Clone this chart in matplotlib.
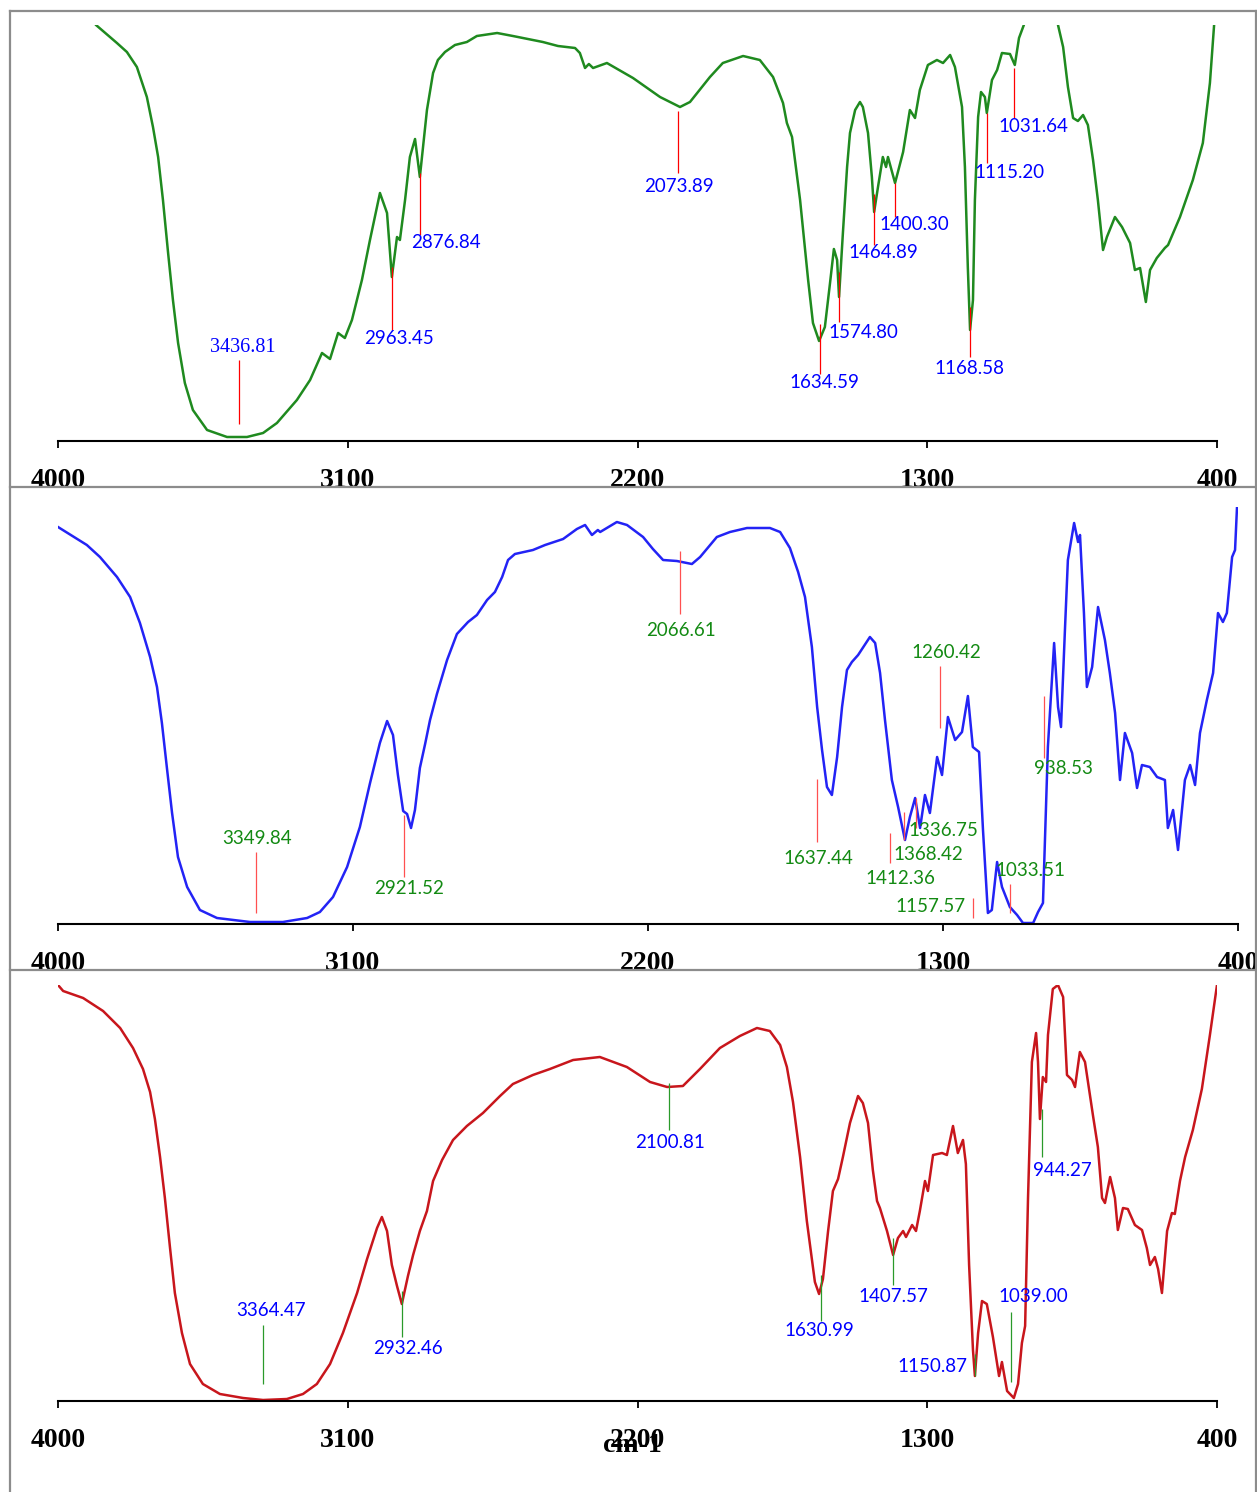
import matplotlib
matplotlib.use("Agg")
import matplotlib.pyplot as plt
from matplotlib.lines import Line2D

W, H = 1257, 1492

# ---- panel 1 (green) : wavenumber / transmittance (a.u.)
wn1 = [3932, 3882, 3817, 3786, 3755, 3724, 3705, 3689, 3674, 3658, 3643, 3627, 3606, 3581,
       3537, 3475, 3413, 3363, 3320, 3258, 3217, 3180, 3155, 3130, 3109, 3087, 3056, 3031,
       3000, 2978, 2963, 2947, 2938, 2922, 2907, 2891, 2876, 2854, 2835, 2820, 2798, 2767,
       2730, 2699, 2636, 2587, 2494, 2447, 2394, 2379, 2363, 2351, 2338, 2295, 2214, 2130,
       2068, 2037, 1975, 1935, 1872, 1820, 1779, 1748, 1736, 1720, 1695, 1670, 1655, 1636,
       1618, 1602, 1590, 1580, 1574, 1562, 1549, 1540, 1524, 1509, 1500, 1484, 1472, 1465,
       1453, 1438, 1428, 1422, 1400, 1375, 1354, 1338, 1323, 1298, 1270, 1251, 1229, 1214,
       1192, 1183, 1174, 1167, 1158, 1152, 1142, 1133, 1121, 1115, 1099, 1083, 1068, 1043,
       1028, 1015, 1000, 965, 919, 894, 878, 863, 847, 832, 816, 801, 785, 770, 754, 742,
       717, 695, 670, 655, 639, 621, 608, 587, 562, 552, 515, 475, 444, 422, 409]
t1 = [436, 416, 398, 389, 374, 344, 314, 284, 241, 188, 141, 98, 58, 31,
      11, 4, 4, 8, 18, 41, 61, 88, 82, 108, 103, 121, 161, 201,
      248, 228, 164, 204, 201, 241, 284, 302, 264, 331, 368, 381, 389, 396,
      399, 405, 408, 405, 399, 395, 393, 388, 373, 377, 373, 378, 363, 344,
      334, 339, 364, 378, 385, 381, 364, 338, 318, 304, 241, 161, 118, 100,
      114, 158, 192, 181, 144, 208, 274, 308, 331, 339, 334, 308, 264, 229,
      254, 284, 274, 284, 258, 289, 331, 323, 351, 376, 381, 378, 386, 374,
      334, 274, 174, 111, 141, 241, 324, 349, 344, 328, 361, 371, 388, 387,
      376, 403, 416, 451, 451, 416, 394, 354, 323, 320, 326, 316, 281, 241, 191, 204,
      224, 214, 198, 171, 173, 139, 171, 183, 193, 196, 224, 261, 298, 358, 416]
peaks1 = [3436.81, 2963.45, 2876.84, 2073.89, 1634.59, 1574.80, 1464.89, 1400.30,
          1168.58, 1115.20, 1031.64]
# marker low / high, label height, label x-offset (px)
mk1 = [(17, 81, 94, 3), (111, 174, 103, 7), (206, 268, 198, 26), (268, 330, 254, 1),
       (67, 117, 59, 5), (119, 169, 109, 25), (196, 247, 189, 9), (224, 258, 217, 19),
       (84, 134, 73, 0), (278, 328, 269, 23), (323, 373, 314, 20)]

# ---- panel 2 (blue)
wn2 = [4000, 3912, 3872, 3820, 3780, 3750, 3719, 3698, 3683, 3667, 3652, 3634, 3606, 3567,
       3515, 3414, 3314, 3240, 3201, 3161, 3118, 3079, 3048, 3018, 2996, 2978, 2963, 2947,
       2935, 2923, 2911, 2896, 2880, 2865, 2844, 2813, 2783, 2749, 2722, 2691, 2667, 2645,
       2627, 2606, 2551, 2514, 2459, 2417, 2392, 2371, 2353, 2346, 2295, 2264, 2215, 2185,
       2154, 2112, 2066, 2041, 1990, 1950, 1898, 1828, 1797, 1767, 1742, 1721, 1700, 1684,
       1669, 1654, 1639, 1623, 1608, 1593, 1578, 1559, 1523, 1507, 1492, 1477, 1456, 1437,
       1416, 1401, 1385, 1370, 1355, 1340, 1318, 1303, 1285, 1263, 1242, 1224, 1209, 1190,
       1178, 1163, 1151, 1135, 1120, 1096, 1074, 1056, 1025, 1010, 995, 980, 961, 949, 940,
       928, 919, 900, 888, 882, 870, 861, 845, 827, 806, 791, 775, 760, 745, 723, 708, 693,
       669, 647, 623, 614, 598, 583, 562, 546, 531, 516, 495, 476, 461, 446, 434, 418, 409, 403]
t2 = [397, 379, 367, 347, 327, 301, 267, 237, 201, 154, 111, 67, 37, 14,
      6, 2, 2, 6, 12, 27, 57, 97, 141, 181, 203, 189, 149, 113,
      110, 96, 114, 156, 180, 204, 230, 264, 290, 302, 309, 324, 332, 347,
      364, 370, 374, 379, 385, 395, 399, 389, 394, 392, 402, 399, 387, 375,
      364, 363, 360, 367, 387, 392, 396, 396, 392, 376, 352, 327, 277, 217,
      174, 137, 129, 167, 217, 254, 262, 269, 287, 281, 251, 204, 144, 117,
      84, 107, 126, 96, 129, 111, 167, 149, 207, 184, 192, 228, 177, 172,
      94, 11, 14, 62, 37, 17, 9, 1, 1, 12, 21, 177, 281, 217, 197,
      294, 364, 401, 382, 389, 311, 237, 257, 317, 284, 251, 211, 144, 191, 171, 136, 159,
      157, 147, 144, 96, 114, 74, 144, 159, 139, 191, 224, 251, 311, 302, 311, 367, 374, 417]
peaks2 = [3349.84, 2921.52, 2066.61, 1637.44, 1412.36, 1368.42, 1336.75, 1260.42,
          1157.57, 1033.51, 938.53]
marker2_wn = [3396, 2944, 2102, 1684, 1462, 1419, 1382, 1309, 1209, 1096, 992]
mk2 = [(11, 72, 85, 1), (47, 109, 35, 5), (310, 373, 294, 1), (82, 145, 66, 1),
       (61, 91, 45, 10), (84, 112, 70, 24), (96, 126, 93, 27), (196, 258, 271, 6),
       (6, 26, 18, -42), (11, 40, 54, 21), (166, 228, 155, 19)]

# ---- panel 3 (red)
wn3 = [4000, 3984, 3922, 3860, 3807, 3767, 3736, 3714, 3699, 3683, 3668, 3652, 3637, 3615,
       3590, 3550, 3497, 3425, 3363, 3289, 3239, 3196, 3155, 3115, 3071, 3040, 3009, 2994,
       2978, 2963, 2947, 2932, 2913, 2897, 2876, 2854, 2835, 2807, 2773, 2730, 2680, 2627,
       2587, 2525, 2472, 2400, 2317, 2233, 2161, 2108, 2059, 2006, 1944, 1882, 1829, 1789,
       1757, 1736, 1717, 1695, 1674, 1658, 1649, 1636, 1624, 1608, 1593, 1577, 1562, 1540,
       1515, 1500, 1484, 1469, 1456, 1447, 1425, 1406, 1391, 1375, 1366, 1347, 1335, 1323,
       1307, 1298, 1282, 1254, 1239, 1220, 1205, 1189, 1180, 1170, 1158, 1152, 1142, 1130,
       1115, 1096, 1077, 1068, 1052, 1031, 1018, 1006, 996, 987, 975, 962, 956, 950, 941,
       931, 925, 910, 894, 878, 866, 850, 841, 826, 810, 785, 770, 757, 748, 732, 717, 708,
       692, 677, 655, 633, 618, 608, 593, 583, 571, 555, 540, 531, 515, 499, 475, 447, 422, 400]
t3 = [416, 410, 403, 390, 373, 353, 332, 309, 282, 244, 203, 153, 108, 68,
      37, 17, 7, 3, 1, 2, 7, 17, 37, 68, 108, 142, 173, 184,
      170, 136, 115, 97, 125, 146, 170, 190, 220, 241, 261, 275, 288, 305,
      317, 326, 332, 341, 344, 334, 319, 314, 315, 332, 353, 365, 373, 370,
      356, 334, 299, 244, 180, 141, 119, 107, 122, 170, 210, 222, 244, 278,
      305, 298, 278, 231, 200, 193, 170, 146, 163, 170, 164, 176, 170, 190,
      220, 210, 246, 248, 246, 275, 248, 261, 237, 136, 51, 25, 68, 100,
      97, 64, 25, 39, 10, 3, 17, 58, 75, 203, 339, 368, 339, 282, 324,
      319, 366, 412, 416, 404, 326, 321, 314, 349, 339, 285, 254, 203, 198, 224, 203, 171,
      193, 192, 176, 171, 153, 136, 144, 132, 108, 170, 188, 187, 220, 244, 271, 312, 366, 416]
peaks3 = [3364.47, 2932.46, 2100.81, 1630.99, 1407.57, 1150.87, 1039.00, 944.27]
mk3 = [(17, 76, 90, 8), (64, 110, 52, 6), (271, 318, 258, 1), (80, 126, 71, -1),
       (116, 163, 104, 1), (25, 47, 34, -43), (19, 89, 104, 22), (244, 292, 230, 21)]

ticks = [4000, 3100, 2200, 1300, 400]


def rect(x0, x1, ytop, ybot):
    return [x0 / W, 1 - ybot / H, (x1 - x0) / W, (ybot - ytop) / H]


def setup(ax, ylim):
    ax.set_xlim(4000, 400)
    ax.set_ylim(0, ylim)
    for s in ["top", "right", "left"]:
        ax.spines[s].set_visible(False)
    ax.spines["bottom"].set_linewidth(1.5)
    ax.set_yticks([])
    ax.set_xticks(ticks)
    ax.set_xticklabels([str(t) for t in ticks])
    ax.tick_params(axis="x", direction="out", length=5, width=1.3, pad=14.5)
    for lab in ax.get_xticklabels():
        lab.set_fontfamily("Liberation Serif")
        lab.set_fontweight("bold")
        lab.set_fontsize(20)
    ax.patch.set_alpha(0)


def peaks(ax, xs, labels, mk, line_c, text_c, first_serif=False):
    for i, (x, lab, (lo, hi, lh, dx)) in enumerate(zip(xs, labels, mk)):
        ax.vlines(x, lo, hi, color=line_c, lw=0.9, zorder=3)
        fam = "Liberation Serif" if (first_serif and i == 0) else "Lato"
        fs = 14.5 if (first_serif and i == 0) else 13.5
        ax.annotate(f"{lab:.2f}", xy=(x, lh), xytext=(dx, 0), textcoords="offset pixels",
                    ha="center", va="center", color=text_c, fontsize=fs, family=fam,
                    zorder=4)


fig = plt.figure(figsize=(W / 100, H / 100), dpi=100)

ax1 = fig.add_axes(rect(58, 1217, 25, 441))
setup(ax1, 416)
ax1.plot(wn1, t1, color="#1f8a1f", lw=1.8)
peaks(ax1, peaks1, peaks1, mk1, "#ff0000", "#0000ff", first_serif=True)

ax2 = fig.add_axes(rect(58, 1238, 507, 924))
setup(ax2, 417)
ax2.plot(wn2, t2, color="#2323f5", lw=1.8)
peaks(ax2, marker2_wn, peaks2, mk2, "#ff5050", "#138a13")

ax3 = fig.add_axes(rect(58, 1217, 985, 1401))
setup(ax3, 416)
ax3.plot(wn3, t3, color="#c8161c", lw=1.8)
peaks(ax3, peaks3, peaks3, mk3, "#2a9a2a", "#0000ff")

fig.text(632 / W, 1 - 1452 / H, "cm-1", ha="center", va="baseline",
         fontsize=20, fontweight="bold", family="Liberation Serif")

# grey frame and panel separators
frame = [((10, 10), (11, H)), ((10, 1256), (11, 11)), ((1256, 1256), (11, H)),
         ((10, 1256), (487, 487)), ((10, 1256), (970, 970))]
for xs, ys in frame:
    fig.add_artist(Line2D([x / W for x in xs], [1 - y / H for y in ys],
                          color="#8c8c8c", lw=1.6, zorder=10))

fig.savefig("out.png", dpi=100, facecolor="white")
